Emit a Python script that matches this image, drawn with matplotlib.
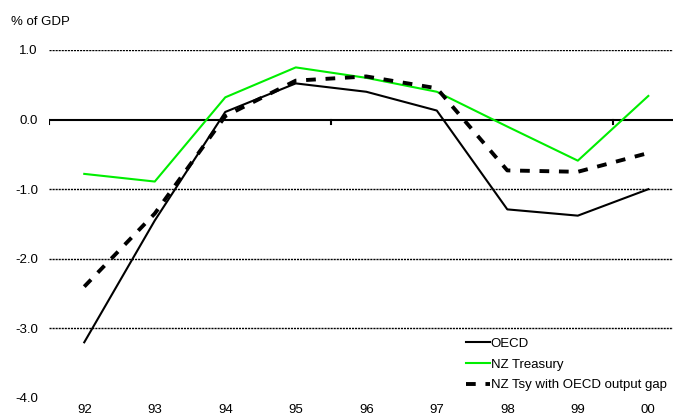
import numpy as np
from matplotlib import pyplot as plt

years = ["92", "93", "94", "95", "96", "97", "98", "99", "00"]
oecd = [-3.2, -1.45, 0.11, 0.52, 0.40, 0.13, -1.29, -1.38, -1.0]
nz_treasury = [-0.78, -0.89, 0.32, 0.75, 0.60, 0.40, -0.10, -0.59, 0.34]
nz_tsy_oecd_gap = [-2.4, -1.35, 0.05, 0.56, 0.62, 0.45, -0.73, -0.75, -0.48]

plt.rcParams['font.family'] = ['Liberation Sans', 'DejaVu Sans']
fs = 9.5

fig = plt.figure(figsize=(6.73, 4.17), dpi=100)
# axes runs off the right edge like the original
ax = fig.add_axes([49/673, 19/417, 624/673, 348/417])

x = np.arange(len(years))
ax.plot(x, oecd, color="black", lw=1.5, label="OECD")
ax.plot(x, nz_treasury, color="#00ee00", lw=1.5, label="NZ Treasury")
ax.plot(x, nz_tsy_oecd_gap, color="black", lw=2.8, dashes=(2.5, 2.5),
        label="NZ Tsy with OECD output gap")

for v in [1, -1, -2, -3]:
    ax.axhline(v, color="black", lw=1, dashes=(1.5, 0.7), zorder=0)
ax.axhline(0, color="black", lw=1.5, zorder=1)
# small ticks on the zero line
for b in np.arange(-0.5, len(years), 4):
    ax.plot([b, b], [0, -0.06], color="black", lw=1.5)

ax.set_xlim(-0.5, 8.35)
ax.set_ylim(-4, 1)
ax.set_yticks([1, 0, -1, -2, -3, -4])
ax.set_yticklabels(["%.1f" % v for v in [1, 0, -1, -2, -3, -4]])
ax.set_xticks(x)
ax.set_xticklabels(years)
ax.tick_params(axis="both", length=0, labelsize=fs)
ax.tick_params(axis="y", pad=8)
ax.tick_params(axis="x", pad=4)
for s in ax.spines.values():
    s.set_visible(False)

fig.text(11/673, 1 - 22/417, "% of GDP", fontsize=fs, va="center", ha="left")

ax.legend(loc="lower right", bbox_to_anchor=(1.0, 0.0), frameon=False,
          fontsize=fs, handlelength=1.8, handletextpad=0.05, labelspacing=0.65,
          borderaxespad=0.1)

plt.savefig("out.png", dpi=100)
